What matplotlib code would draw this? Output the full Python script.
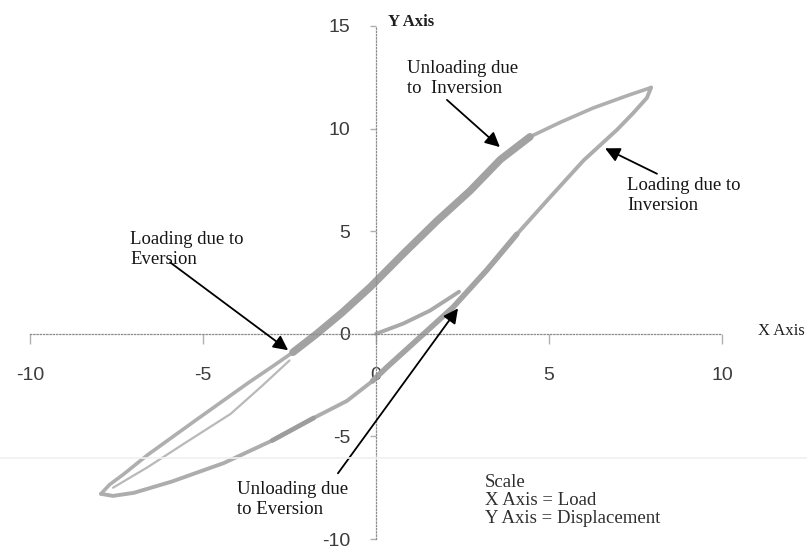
import matplotlib
matplotlib.use("Agg")
import matplotlib.pyplot as plt
from matplotlib.lines import Line2D

plt.rcParams["axes.unicode_minus"] = False

# Unloading branch: from the peak down to the lowest point
unload_x = [7.95, 7.25, 6.27, 5.32, 4.45, 3.6, 2.72, 1.76, 0.79, -0.17, -1.0, -1.75,
            -2.4, -3.0, -3.7, -4.45, -5.2, -5.9, -6.6, -7.3, -7.7, -7.95]
unload_y = [12.0, 11.6, 11.0, 10.3, 9.6, 8.5, 6.97, 5.5, 3.9, 2.27, 1.0, -0.05,
            -0.9, -1.6, -2.4, -3.3, -4.2, -5.05, -5.9, -6.85, -7.35, -7.8]

# Second strand of the unloading branch near the lowest point
strand_x = [-2.5, -3.3, -4.2, -5.5, -6.6, -7.6]
strand_y = [-1.3, -2.55, -3.9, -5.3, -6.5, -7.5]

# Loading branch: from the lowest point back up to the peak
load_x = [-7.95, -7.6, -7.0, -5.9, -4.4, -3.0, -1.8, -0.84, -0.1, 0.3, 1.27, 2.23,
          3.2, 4.07, 5.0, 6.0, 6.97, 7.43, 7.83, 7.95]
load_y = [-7.8, -7.9, -7.75, -7.2, -6.3, -5.2, -4.1, -3.27, -2.3, -1.65, -0.17, 1.3,
          3.1, 4.85, 6.6, 8.45, 9.95, 10.75, 11.5, 12.0]

# Initial loading curve from the origin
initial_x = [0.0, 0.79, 1.56, 2.14, 2.4]
initial_y = [0.0, 0.5, 1.13, 1.76, 2.05]

x_ticks = [-10, -5, 0, 5, 10]
x_tick_labels = ["-10", "-5", "0", "5", "10"]
y_ticks = [-10, -5, 0, 5, 10, 15]
y_tick_labels = ["-10", "-5", "0", "5", "10", "15"]

W, H = 807, 548
fig = plt.figure(figsize=(W / 100, H / 100), dpi=100)
ax = fig.add_axes([30 / W, 9 / H, 692 / W, 513 / H])
ax.set_xlim(-10, 10)
ax.set_ylim(-10, 15)

# faint horizontal scan line across the page
fig.add_artist(Line2D([0, 1], [1 - 458 / H, 1 - 458 / H], color="#f0f0f0", lw=1.2))

# axes through the origin, drawn as fine dotted lines
for side in ("top", "right"):
    ax.spines[side].set_visible(False)
ax.spines["left"].set_position(("data", 0))
ax.spines["bottom"].set_position(("data", 0))
for side in ("left", "bottom"):
    ax.spines[side].set_color("#8c8c8c")
    ax.spines[side].set_linewidth(0.9)
    ax.spines[side].set_linestyle((0, (1, 1.6)))

ax.set_xticks(x_ticks)
ax.set_xticklabels(x_tick_labels)
ax.set_yticks(y_ticks)
ax.set_yticklabels(y_tick_labels)
for lab in ax.get_xticklabels() + ax.get_yticklabels():
    lab.set_fontfamily("Liberation Sans")
    lab.set_fontsize(14)
    lab.set_color("#3c3c3c")
ax.tick_params(axis="x", direction="out", length=7, width=1, color="#b0b0b0", pad=17)
ax.tick_params(axis="y", direction="out", length=4.5, width=1, color="#b0b0b0", pad=14)

round_ends = dict(solid_capstyle="round", solid_joinstyle="round")

# hysteresis loop
ax.plot(unload_x, unload_y, lw=2.6, color="#afafaf", **round_ends)
ax.plot(strand_x, strand_y, lw=1.6, color="#b9b9b9", **round_ends)
ax.plot(load_x, load_y, lw=2.8, color="#adadad", **round_ends)
ax.plot(initial_x, initial_y, lw=2.8, color="#a9a9a9", **round_ends)
# heavier middle sections
ax.plot(unload_x[4:13], unload_y[4:13], lw=5.4, color="#a2a2a2", **round_ends)
ax.plot(load_x[8:14], load_y[8:14], lw=4.0, color="#a4a4a4", **round_ends)
ax.plot(load_x[5:7], load_y[5:7], lw=3.4, color="#9d9d9d", **round_ends)

serif = dict(family="Liberation Serif", size=13.5, color="#151515")
arrow = dict(arrowstyle="-|>", color="black", lw=1.3, mutation_scale=22,
             shrinkA=0, shrinkB=0)

ax.text(0.9, 12.45, "Unloading due\nto  Inversion", ha="left", va="center", **serif)
ax.annotate("", xy=(3.58, 9.1), xytext=(2.05, 11.4), arrowprops=arrow)

ax.text(7.25, 6.75, "Loading due to\nInversion", ha="left", va="center", **serif)
ax.annotate("", xy=(6.62, 9.04), xytext=(8.12, 7.8), arrowprops=arrow)

ax.text(-7.11, 4.12, "Loading due to\nEversion", ha="left", va="center", **serif)
ax.annotate("", xy=(-2.54, -0.8), xytext=(-5.95, 3.48), arrowprops=arrow)

ax.text(-4.02, -8.07, "Unloading due\nto Eversion", ha="left", va="center", **serif)
ax.annotate("", xy=(2.37, 1.24), xytext=(-1.1, -6.8), arrowprops=arrow)

ax.text(3.15, -8.12, "Scale\nX Axis = Load\nY Axis = Displacement", ha="left",
        va="center", family="Liberation Serif", size=13.5, color="#2e2e2e",
        linespacing=1.08)

ax.text(0.35, 15.19, "Y Axis", ha="left", va="center", family="Liberation Serif",
        size=12, weight="bold", color="#1e1e1e", clip_on=False)
ax.text(11.04, 0.12, "X Axis", ha="left", va="center", family="Liberation Serif",
        size=12, color="#1e1e1e", clip_on=False)

fig.savefig("out.png", dpi=100)
